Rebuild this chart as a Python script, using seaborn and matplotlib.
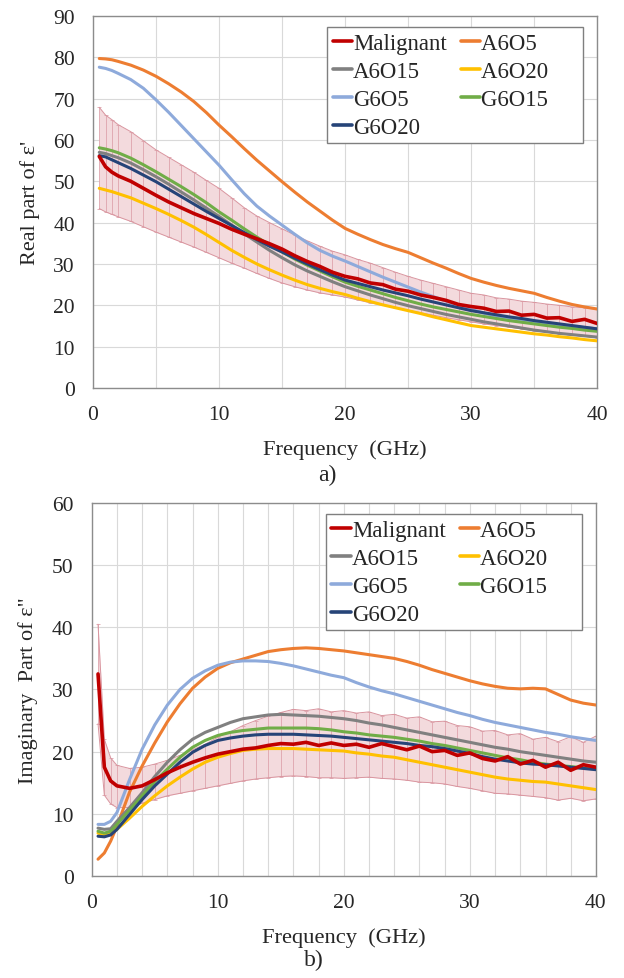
import numpy as np
import pandas as pd
import matplotlib
matplotlib.use("Agg")
import matplotlib.pyplot as plt
from matplotlib.lines import Line2D
from matplotlib.ticker import MultipleLocator
import seaborn as sns

# frequency points (GHz)
freq = [0.5, 1, 1.5, 2, 3, 4, 5, 6, 7, 8, 9, 10, 11, 12, 13, 14, 15, 16, 17, 18, 19,
        20, 21, 22, 23, 24, 25, 26, 27, 28, 29, 30, 31, 32, 33, 34, 35, 36, 37, 38, 39, 40]

series_names = ["Malignant", "A6O5", "A6O15", "A6O20", "G6O5", "G6O15", "G6O20"]
colors = ["#c00000", "#ed7d31", "#808080", "#ffc000", "#8eaadb", "#70ad47", "#264478"]

#%% a) real part
real_malignant = [56.0, 53.5, 52.2, 51.3, 50.0, 48.3, 46.6, 45.0, 43.6, 42.2, 41.0, 39.8, 38.4, 37.2,
                  36.1, 34.9, 33.6, 32.0, 30.6, 29.4, 28.0, 27.0, 26.4, 25.4, 25.0, 23.9, 23.4, 22.5,
                  21.9, 21.2, 20.2, 19.7, 19.3, 18.5, 18.6, 17.6, 17.8, 16.9, 17.0, 16.1, 16.6, 15.6]
real_upper = [67.9, 66.0, 64.9, 63.7, 62.0, 59.8, 57.6, 55.8, 54.0, 52.2, 50.2, 48.3, 46.0, 43.6,
              41.6, 40.0, 38.5, 37.0, 35.6, 34.3, 33.1, 32.2, 31.1, 30.2, 29.1, 28.0, 27.0, 26.1,
              25.3, 24.5, 23.7, 22.9, 22.5, 21.8, 21.5, 21.0, 20.7, 20.3, 20.0, 19.6, 19.4, 19.0]
real_lower = [43.4, 42.6, 42.0, 41.4, 40.3, 39.0, 37.7, 36.5, 35.3, 34.1, 32.8, 31.5, 30.2, 29.0,
              27.7, 26.5, 25.4, 24.5, 23.7, 23.0, 22.5, 22.0, 21.3, 20.6, 20.0, 19.4, 18.8, 18.2,
              17.6, 17.0, 16.5, 16.0, 15.5, 15.1, 14.7, 14.3, 13.9, 13.5, 13.1, 12.8, 12.5, 12.2]
real_a6o5 = [79.7, 79.6, 79.4, 79.0, 78.1, 76.9, 75.4, 73.6, 71.6, 69.3, 66.6, 63.6, 60.8, 57.9,
             55.1, 52.5, 49.9, 47.4, 45.0, 42.8, 40.6, 38.6, 37.2, 35.9, 34.7, 33.7, 32.8, 31.5,
             30.2, 29.0, 27.7, 26.5, 25.6, 24.8, 24.1, 23.5, 22.9, 21.9, 21.0, 20.2, 19.6, 19.1]
real_a6o15 = [57.0, 56.7, 56.2, 55.7, 54.4, 52.8, 51.1, 49.3, 47.4, 45.5, 43.5, 41.5, 39.4, 37.3,
              35.3, 33.3, 31.5, 29.8, 28.3, 27.0, 25.7, 24.5, 23.5, 22.5, 21.6, 20.7, 19.9, 19.2,
              18.5, 17.8, 17.2, 16.6, 16.0, 15.5, 15.0, 14.5, 14.0, 13.6, 13.2, 12.9, 12.6, 12.3]
real_a6o20 = [48.3, 47.9, 47.5, 47.0, 46.0, 44.7, 43.4, 42.0, 40.5, 38.9, 37.1, 35.2, 33.3, 31.6,
              30.0, 28.6, 27.3, 26.1, 25.0, 24.1, 23.3, 22.6, 21.7, 20.9, 20.1, 19.4, 18.7, 18.0,
              17.2, 16.5, 15.8, 15.1, 14.7, 14.3, 13.9, 13.5, 13.1, 12.8, 12.4, 12.1, 11.7, 11.4]
real_g6o5 = [77.6, 77.3, 76.8, 76.1, 74.6, 72.5, 69.7, 66.7, 63.5, 60.3, 57.1, 53.9, 50.4, 47.0,
             44.0, 41.6, 39.4, 37.2, 35.1, 33.3, 31.9, 30.7, 29.4, 28.1, 26.8, 25.6, 24.4, 23.2,
             22.1, 21.0, 20.0, 19.0, 18.1, 17.3, 16.8, 16.4, 16.1, 15.7, 15.3, 14.9, 14.6, 14.3]
real_g6o15 = [58.1, 57.8, 57.4, 56.9, 55.6, 54.0, 52.3, 50.5, 48.7, 46.8, 44.8, 42.6, 40.6, 38.5,
              36.5, 34.6, 32.9, 31.2, 29.7, 28.3, 26.9, 25.6, 24.6, 23.7, 22.8, 21.9, 21.1, 20.3,
              19.6, 19.0, 18.4, 17.8, 17.3, 16.8, 16.3, 15.9, 15.5, 15.1, 14.7, 14.4, 14.0, 13.7]
real_g6o20 = [56.2, 55.9, 55.2, 54.5, 53.1, 51.5, 49.9, 48.1, 46.3, 44.5, 42.7, 41.0, 39.3, 37.6,
              35.9, 34.3, 32.9, 31.4, 30.0, 28.6, 27.3, 26.1, 25.3, 24.5, 23.7, 23.0, 22.3, 21.5,
              20.8, 20.1, 19.4, 18.7, 18.2, 17.7, 17.2, 16.8, 16.3, 15.9, 15.5, 15.1, 14.7, 14.3]

#%% b) imaginary part
imag_malignant = [32.5, 17.5, 15.3, 14.5, 14.1, 14.5, 15.5, 16.6, 17.5, 18.3, 19.0, 19.6, 20.0, 20.4,
                  20.6, 21.0, 21.3, 21.2, 21.5, 21.0, 21.4, 21.0, 21.2, 20.7, 21.3, 20.8, 20.3, 20.9,
                  20.0, 20.2, 19.4, 19.8, 18.9, 18.5, 19.2, 18.0, 18.6, 17.5, 18.3, 17.0, 17.9, 17.5]
imag_upper = [40.5, 22.0, 19.0, 17.8, 17.3, 17.5, 18.0, 18.6, 19.4, 20.3, 21.2, 22.3, 23.2, 24.2,
              25.0, 25.7, 26.3, 26.8, 26.6, 26.9, 26.4, 26.6, 26.2, 26.4, 25.8, 26.0, 25.4, 25.6,
              24.8, 24.9, 24.2, 24.0, 23.3, 23.4, 22.7, 22.9, 22.0, 22.3, 21.6, 22.4, 21.5, 22.5]
imag_lower = [24.5, 13.0, 11.6, 11.0, 11.0, 11.7, 12.3, 12.9, 13.3, 13.7, 14.1, 14.5, 14.9, 15.3,
              15.6, 15.8, 16.0, 16.1, 16.0, 15.8, 15.8, 15.7, 15.8, 15.9, 15.7, 15.6, 15.4, 15.1,
              15.0, 14.8, 14.4, 14.1, 13.7, 13.3, 13.2, 13.0, 12.8, 12.6, 12.2, 12.5, 12.1, 12.4]
imag_a6o5 = [2.7, 3.7, 5.6, 8.0, 13.5, 17.7, 21.4, 24.8, 27.7, 30.2, 32.0, 33.4, 34.3, 34.9,
             35.5, 36.1, 36.4, 36.6, 36.7, 36.6, 36.4, 36.2, 35.9, 35.6, 35.3, 35.0, 34.5, 33.9,
             33.2, 32.6, 32.0, 31.4, 30.9, 30.5, 30.2, 30.1, 30.2, 30.1, 29.2, 28.3, 27.8, 27.5]
imag_a6o15 = [7.7, 7.5, 7.6, 8.8, 11.0, 13.4, 16.0, 18.3, 20.3, 22.0, 23.1, 23.9, 24.7, 25.3,
              25.6, 25.9, 26.0, 25.9, 25.8, 25.7, 25.5, 25.3, 25.0, 24.6, 24.3, 23.9, 23.5, 23.1,
              22.7, 22.3, 21.9, 21.5, 21.1, 20.7, 20.4, 20.0, 19.7, 19.4, 19.1, 18.8, 18.5, 18.3]
imag_a6o20 = [6.9, 6.6, 6.9, 7.5, 9.3, 11.2, 12.9, 14.5, 15.9, 17.2, 18.3, 19.1, 19.7, 20.2,
              20.4, 20.5, 20.5, 20.5, 20.4, 20.3, 20.2, 20.1, 19.8, 19.6, 19.3, 19.1, 18.7, 18.3,
              17.9, 17.5, 17.1, 16.7, 16.3, 15.9, 15.6, 15.4, 15.2, 15.1, 14.8, 14.5, 14.2, 13.9]
imag_g6o5 = [8.3, 8.3, 8.8, 10.2, 15.5, 20.4, 24.3, 27.5, 30.0, 31.8, 33.0, 33.9, 34.4, 34.6,
             34.6, 34.5, 34.2, 33.8, 33.3, 32.8, 32.3, 31.9, 31.1, 30.4, 29.8, 29.3, 28.7, 28.1,
             27.5, 26.9, 26.3, 25.8, 25.2, 24.7, 24.3, 23.9, 23.5, 23.1, 22.8, 22.4, 22.1, 21.8]
imag_g6o15 = [7.2, 6.9, 7.2, 8.3, 10.6, 12.9, 15.2, 17.2, 19.1, 20.7, 21.8, 22.6, 23.1, 23.4,
              23.6, 23.8, 23.8, 23.8, 23.8, 23.7, 23.5, 23.2, 23.0, 22.7, 22.5, 22.3, 22.0, 21.7,
              21.3, 21.0, 20.6, 20.2, 19.8, 19.4, 19.0, 18.7, 18.3, 18.0, 17.8, 17.6, 17.4, 17.2]
imag_g6o20 = [6.4, 6.3, 6.6, 7.5, 9.9, 12.3, 14.5, 16.4, 18.3, 19.9, 21.0, 21.8, 22.2, 22.5,
              22.7, 22.8, 22.8, 22.8, 22.7, 22.6, 22.5, 22.3, 22.1, 21.9, 21.7, 21.5, 21.3, 21.0,
              20.8, 20.5, 20.1, 19.7, 19.2, 18.8, 18.5, 18.2, 18.0, 17.9, 17.7, 17.5, 17.3, 17.1]

sns.set_style("white")
plt.rcParams["font.family"] = ["Liberation Serif", "DejaVu Serif"]
plt.rcParams["font.size"] = 15.5

fig = plt.figure(figsize=(6.24, 9.79), dpi=100)
ax_a = fig.add_axes([0.149, 0.6027, 0.808, 0.38])
ax_b = fig.add_axes([0.147, 0.1042, 0.808, 0.381])

palette = dict(zip(series_names, colors))


def draw_panel(ax, mal, lower, upper, others, ymax, minor_step, ylabel, tag, tag_xy):
    mal = np.array(mal)
    lower = np.array(lower)
    upper = np.array(upper)

    # malignant error band
    ax.fill_between(freq, lower, upper, color="#f3dadd", lw=0, zorder=1)
    ax.errorbar(freq, mal, yerr=[mal - lower, upper - mal], fmt="none",
                ecolor="#dea4ad", elinewidth=0.6, capsize=1.2, capthick=0.6, zorder=1.5)
    ax.plot(freq, upper, color="#d9959f", lw=0.7, zorder=1.6)
    ax.plot(freq, lower, color="#d9959f", lw=0.7, zorder=1.6)

    long = pd.DataFrame({
        "freq": np.tile(freq, len(others)),
        "value": np.concatenate([v for v in others.values()]),
        "series": np.repeat(list(others.keys()), len(freq)),
    })
    sns.lineplot(data=long, x="freq", y="value", hue="series", palette=palette,
                 hue_order=list(others.keys()), linewidth=2.2, legend=False,
                 sort=False, estimator=None, ax=ax, zorder=3)
    ax.plot(freq, mal, color=palette["Malignant"], lw=2.6, zorder=4)

    ax.set_xlim(0, 40)
    ax.set_ylim(0, ymax)
    ax.xaxis.set_major_locator(MultipleLocator(10))
    ax.xaxis.set_minor_locator(MultipleLocator(minor_step))
    ax.yaxis.set_major_locator(MultipleLocator(10))
    ax.grid(True, which="both", axis="x", color="#d9d9d9", lw=0.8)
    ax.grid(True, which="major", axis="y", color="#d9d9d9", lw=0.8)
    ax.set_axisbelow(True)
    ax.tick_params(axis="both", which="both", length=0, labelsize=15.5)
    ax.tick_params(axis="y", pad=13)
    ax.tick_params(axis="x", pad=12)
    for s in ax.spines.values():
        s.set_color("#8c8c8c")
        s.set_linewidth(1.0)

    ax.set_xlabel("Frequency  (GHz)", fontsize=16.2)
    ax.xaxis.set_label_coords(0.5, -0.137)
    ax.xaxis.label.set_va("top")
    ax.set_ylabel(ylabel, fontsize=16)
    ax.yaxis.set_label_coords(-0.106, 0.5)

    # legend laid out row by row like the original (ncol fills column-wise)
    order = ["Malignant", "A6O15", "G6O5", "G6O20", "A6O5", "A6O20", "G6O15"]
    labels = [n if i < 4 else n + "     " for i, n in enumerate(order)]
    handles = [Line2D([], [], color=palette[n], lw=2.6) for n in order]
    leg = ax.legend(handles, labels, ncol=2, loc="upper left", bbox_to_anchor=(0.464, 0.97),
                    borderaxespad=0, fontsize=16.5, frameon=True, fancybox=False, framealpha=1,
                    edgecolor="#7f7f7f", handlelength=0.85, handletextpad=0.05,
                    columnspacing=0.6, labelspacing=0.3, borderpad=0.25)
    leg.get_frame().set_linewidth(1.0)

    fig.text(tag_xy[0], tag_xy[1], tag, fontsize=17, ha="center", va="center")


others_a = {"A6O5": real_a6o5, "A6O15": real_a6o15, "A6O20": real_a6o20,
            "G6O5": real_g6o5, "G6O15": real_g6o15, "G6O20": real_g6o20}
others_b = {"A6O5": imag_a6o5, "A6O15": imag_a6o15, "A6O20": imag_a6o20,
            "G6O5": imag_g6o5, "G6O15": imag_g6o15, "G6O20": imag_g6o20}

draw_panel(ax_a, real_malignant, real_lower, real_upper, others_a, 90, 5,
           "Real part of \u03b5'", "a)", (0.525, 1 - 475 / 979))
draw_panel(ax_b, imag_malignant, imag_lower, imag_upper, others_b, 60, 2,
           "Imaginary  Part of \u03b5\"", "b)", (0.503, 1 - 960 / 979))

fig.savefig("out.png", dpi=100)
